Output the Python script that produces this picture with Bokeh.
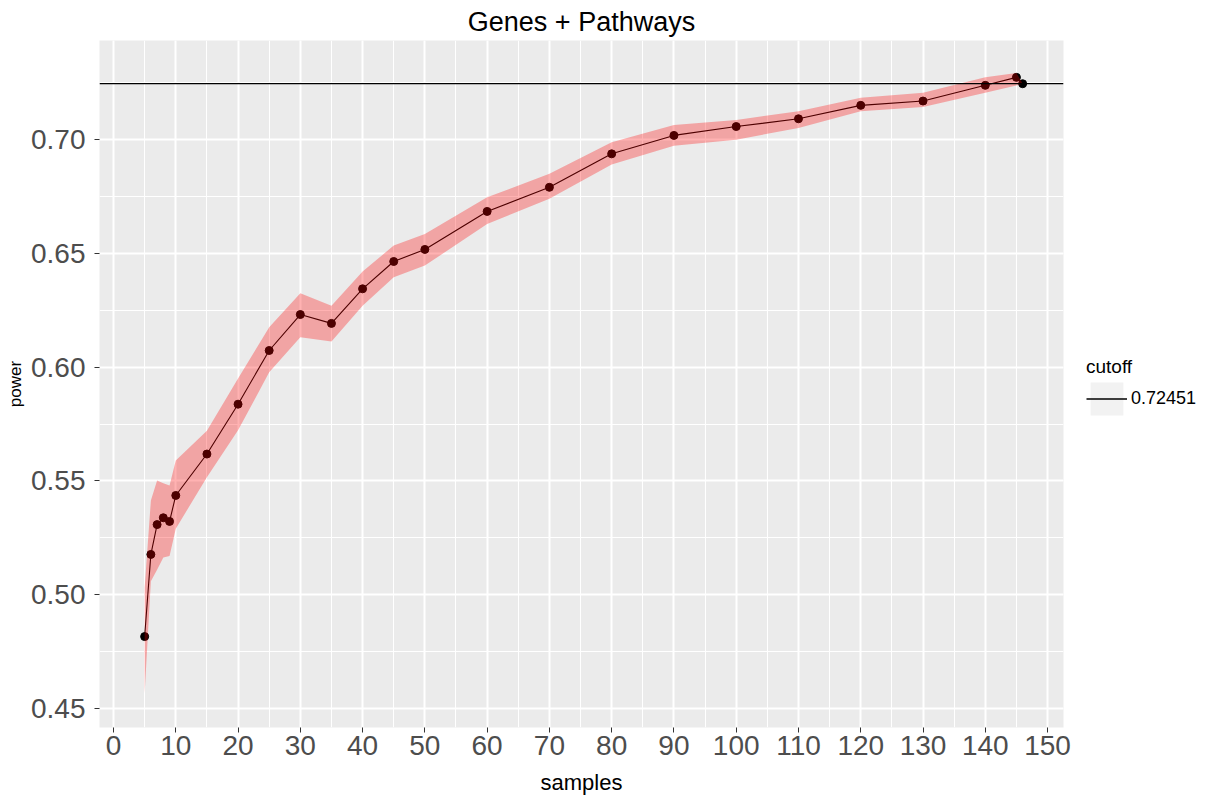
from bokeh.plotting import figure
from bokeh.layouts import row
from bokeh.models import (SingleIntervalTicker, NumeralTickFormatter, Span, Legend,
                          LegendItem, Range1d)
from bokeh.core.properties import value
from bokeh.embed import file_html
from bokeh.resources import INLINE

# ---- data ----
samples = [5, 6, 7, 8, 9, 10, 15, 20, 25, 30, 35, 40, 45, 50, 60, 70, 80, 90,
           100, 110, 120, 130, 140, 145, 146]
power = [0.4816, 0.5177, 0.5308, 0.5338, 0.5322, 0.5436, 0.5618, 0.5837, 0.6073,
         0.6231, 0.6192, 0.6344, 0.6464, 0.6517, 0.6684, 0.6790, 0.6937, 0.7018,
         0.7057, 0.7091, 0.7150, 0.7169, 0.7238, 0.7273, 0.72451]
upper = [0.5030, 0.5414, 0.5502, 0.5490, 0.5480, 0.5590, 0.5720, 0.5950, 0.6175,
         0.6324, 0.6270, 0.6420, 0.6534, 0.6585, 0.6746, 0.6849, 0.6988, 0.7064,
         0.7086, 0.7124, 0.7184, 0.7205, 0.7274, 0.7292, 0.72451]
lower = [0.4566, 0.5059, 0.5110, 0.5163, 0.5170, 0.5290, 0.5516, 0.5722, 0.5977,
         0.6131, 0.6112, 0.6270, 0.6395, 0.6446, 0.6629, 0.6740, 0.6890, 0.6973,
         0.6999, 0.7051, 0.7124, 0.7143, 0.7205, 0.7237, 0.72451]
cutoff = 0.72451
cutoff_label = "0.72451"
title_text = "Genes + Pathways"
x_label = "samples"
y_label = "power"
legend_title = "cutoff"

FONT = "Liberation Sans"

p = figure(width=1073, height=801,
           x_range=Range1d(-2.25, 152.56), y_range=Range1d(0.44165, 0.7435),
           output_backend="svg", toolbar_location=None,
           min_border_left=99, min_border_right=10,
           min_border_top=40, min_border_bottom=74)

p.background_fill_color = "#EBEBEB"
p.border_fill_color = "white"
p.outline_line_color = None

# title
p.title.text = title_text
p.title.align = "center"
p.title.text_font = FONT
p.title.text_font_size = "27px"
p.title.text_font_style = "normal"
p.title.text_color = "black"
p.title.standoff = 7

# axes
p.xaxis.ticker = SingleIntervalTicker(interval=10, num_minor_ticks=2)
p.yaxis.ticker = SingleIntervalTicker(interval=0.05, num_minor_ticks=2)
p.yaxis.formatter = NumeralTickFormatter(format="0.00")
for ax in (p.xaxis, p.yaxis):
    ax.axis_line_color = None
    ax.major_tick_line_color = "#333333"
    ax.major_tick_line_width = 1
    ax.major_tick_out = 5
    ax.major_tick_in = 0
    ax.minor_tick_out = 0
    ax.minor_tick_in = 0
    ax.major_label_text_font = FONT
    ax.major_label_text_font_size = "28px"
    ax.major_label_text_color = "#4D4D4D"
    ax.axis_label_text_font = FONT
    ax.axis_label_text_font_style = "normal"
    ax.axis_label_text_color = "black"
p.xaxis.axis_label = x_label
p.yaxis.axis_label = y_label
p.xaxis.major_label_standoff = 3
p.yaxis.major_label_standoff = 9
p.xaxis.axis_label_standoff = 12
p.yaxis.axis_label_standoff = 3
p.xaxis.axis_label_text_font_size = "22px"
p.yaxis.axis_label_text_font_size = "17px"

# grid
for g in (p.xgrid, p.ygrid):
    g.grid_line_color = "white"
    g.grid_line_width = 2
    g.minor_grid_line_color = "white"
    g.minor_grid_line_width = 1.1

# series: line and points, then translucent ribbon over them
p.line(samples, power, line_color="black", line_width=1.1)
p.scatter(samples, power, size=8, fill_color="black", line_color="black")
p.varea(x=samples, y1=lower, y2=upper, fill_color="red", fill_alpha=0.3)

# cutoff line
p.add_layout(Span(location=cutoff, dimension="width", line_color="black", line_width=1.2))

# ---- legend, in a narrow blank figure to the right of the panel ----
lf = figure(width=134, height=801, output_backend="svg", toolbar_location=None,
            x_axis_type=None, y_axis_type=None, min_border=0,
            x_range=Range1d(0, 1), y_range=Range1d(0, 1))
lf.outline_line_color = None
lf.background_fill_color = "white"
lf.border_fill_color = "white"
key_bg = lf.rect(x=[samples[-1]], y=[cutoff], width=1, height=0.01,
                 fill_color="#F2F2F2", line_color=None, visible=False)
key_line = lf.line(x=[samples[0], samples[-1]], y=[cutoff, cutoff],
                   line_color="black", line_width=1.5, visible=False)
legend = Legend(items=[LegendItem(label=value(cutoff_label), renderers=[key_bg, key_line])],
                title=legend_title, location=(13, 308))
legend.title_text_font = FONT
legend.title_text_font_size = "19px"
legend.title_text_font_style = "normal"
legend.title_text_color = "black"
legend.title_standoff = 0
legend.label_text_font = FONT
legend.label_text_font_size = "18px"
legend.label_text_color = "black"
legend.glyph_width = 41
legend.glyph_height = 41
legend.label_standoff = 4
legend.padding = 4
legend.margin = 0
legend.background_fill_alpha = 0
legend.border_line_color = None
lf.add_layout(legend)

layout = row(p, lf)
open("out.html", "w").write(file_html(layout, INLINE))
